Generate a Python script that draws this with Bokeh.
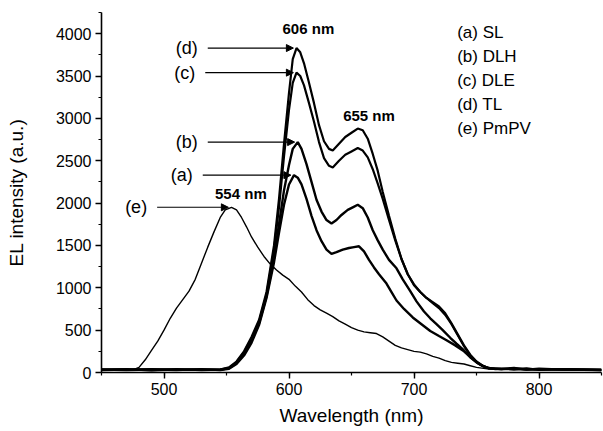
from bokeh.plotting import figure
from bokeh.models import (Range1d, SingleIntervalTicker, Arrow, NormalHead)
from bokeh.core.properties import value
from bokeh.embed import file_html
from bokeh.resources import INLINE

FONT = "Liberation Sans"

# ---------------- data ----------------
wl_d = [450, 470, 490, 510, 530, 545, 552, 558, 564, 570, 576, 582, 588, 592, 596, 600, 603, 606, 609, 612, 616,
        620, 624, 628, 632, 635, 640, 645, 650, 655, 659, 663, 667, 671, 675, 680, 685, 690, 695, 700, 705,
        710, 715, 720, 725, 730, 735, 740, 745, 750, 755, 760, 770, 780, 790, 800, 820, 850]
int_d = [30, 40, 25, 35, 30, 35, 60, 130, 250, 420, 620, 950, 1500, 2050, 2700, 3300, 3700, 3830, 3780, 3650, 3420,
         3180, 2920, 2730, 2640, 2620, 2700, 2780, 2830, 2880, 2860, 2760, 2580, 2380, 2130, 1850, 1580, 1340, 1160, 1030, 950,
         880, 830, 780, 700, 580, 450, 320, 210, 130, 80, 50, 40, 55, 35, 45, 35, 30]

wl_c = [450, 470, 490, 510, 530, 545, 552, 558, 564, 570, 576, 582, 588, 592, 596, 600, 603, 606, 609, 612, 616,
        620, 624, 628, 632, 635, 640, 645, 650, 655, 659, 663, 667, 671, 675, 680, 685, 690, 695, 700, 705,
        710, 715, 720, 725, 730, 735, 740, 745, 750, 755, 760, 770, 780, 790, 800, 820, 850]
int_c = [35, 30, 40, 30, 35, 30, 55, 120, 240, 400, 600, 920, 1450, 1950, 2550, 3100, 3420, 3540, 3500, 3390, 3180,
         2960, 2720, 2530, 2440, 2420, 2500, 2570, 2610, 2650, 2620, 2540, 2400, 2230, 2050, 1800, 1560, 1340, 1160, 1040, 950,
         880, 820, 760, 680, 570, 440, 310, 200, 120, 75, 50, 45, 35, 50, 30, 40, 30]

wl_b = [450, 470, 490, 510, 530, 545, 552, 558, 564, 570, 576, 582, 588, 592, 596, 600, 603, 607, 610, 614, 618,
        622, 626, 630, 634, 638, 642, 647, 651, 655, 659, 663, 667, 671, 675, 680, 686, 691, 697, 702, 708,
        713, 718, 723, 729, 734, 740, 745, 750, 755, 760, 770, 780, 790, 800, 820, 850]
int_b = [30, 35, 30, 40, 30, 35, 50, 110, 220, 380, 580, 900, 1350, 1750, 2150, 2450, 2640, 2720, 2640, 2460, 2250,
         2040, 1900, 1800, 1760, 1800, 1860, 1920, 1950, 1980, 1940, 1830, 1680, 1560, 1450, 1330, 1230, 1100, 960, 840, 720,
         640, 570, 500, 410, 340, 260, 180, 120, 75, 50, 40, 45, 35, 40, 35, 30]

wl_a = [450, 470, 490, 510, 530, 545, 552, 558, 564, 570, 576, 582, 588, 592, 596, 600, 604, 607, 610, 614, 618,
        622, 626, 630, 634, 638, 643, 648, 652, 656, 660, 664, 668, 672, 678, 682, 686, 692, 699, 706, 713,
        720, 726, 733, 740, 746, 752, 758, 765, 780, 800, 820, 850]
int_a = [35, 30, 35, 30, 40, 30, 45, 100, 200, 350, 560, 880, 1300, 1650, 1980, 2220, 2330, 2300, 2220, 2050, 1850,
         1680, 1550, 1450, 1400, 1420, 1450, 1470, 1480, 1490, 1430, 1330, 1240, 1160, 1050, 950, 850, 750, 650, 570, 490,
         430, 380, 320, 250, 170, 100, 60, 40, 45, 35, 40, 30]

wl_e = [450, 465, 475, 480, 485, 490, 495, 500, 505, 510, 515, 520, 525, 530, 535, 540, 545, 549, 554, 558, 562,
        566, 570, 575, 580, 585, 590, 595, 600, 605, 610, 615, 620, 625, 630, 635, 640, 645, 650, 655, 660,
        665, 670, 675, 680, 685, 690, 695, 700, 705, 710, 715, 720, 725, 730, 735, 740, 745, 750, 760, 780, 800, 850]
int_e = [30, 35, 30, 60, 150, 260, 370, 500, 640, 760, 860, 960, 1100, 1290, 1480, 1660, 1830, 1920, 1950, 1920, 1830,
         1720, 1600, 1480, 1370, 1280, 1210, 1150, 1100, 1020, 950, 860, 790, 740, 700, 660, 610, 570, 530, 500, 480,
         470, 460, 420, 370, 320, 290, 270, 250, 240, 220, 190, 170, 140, 120, 110, 100, 80, 60, 40, 40, 35, 30]

series_tags = ["(a)", "(b)", "(c)", "(d)", "(e)"]
legend_items = ["(a) SL", "(b) DLH", "(c) DLE", "(d) TL", "(e) PmPV"]
peak_labels = ["606 nm", "655 nm", "554 nm"]

x_ticks_interval = 100
y_ticks_interval = 500

# ---------------- figure ----------------
p = figure(width=603, height=431, output_backend="svg", toolbar_location=None,
           x_range=Range1d(450, 850), y_range=Range1d(0, 4250),
           min_border_left=101, min_border_right=2, min_border_top=12, min_border_bottom=59)
p.outline_line_color = None
p.grid.visible = False
p.background_fill_color = "white"
p.border_fill_color = "white"

p.xaxis.ticker = SingleIntervalTicker(interval=x_ticks_interval, num_minor_ticks=2)
p.yaxis.ticker = SingleIntervalTicker(interval=y_ticks_interval, num_minor_ticks=2)
for ax in (p.xaxis[0], p.yaxis[0]):
    ax.axis_line_color = "black"
    ax.axis_line_width = 1.6
    ax.major_tick_line_color = "black"
    ax.major_tick_line_width = 1.4
    ax.minor_tick_line_color = "black"
    ax.minor_tick_line_width = 1.2
    ax.major_tick_out = 6
    ax.major_tick_in = 0
    ax.minor_tick_out = 3
    ax.minor_tick_in = 0
    ax.major_label_text_font = FONT
    ax.major_label_text_font_size = "16px"
    ax.major_label_text_color = "black"
    ax.axis_label_text_font = FONT
    ax.axis_label_text_font_size = "19px"
    ax.axis_label_text_font_style = "normal"
    ax.axis_label_text_color = "black"
p.xaxis.axis_label = "Wavelength (nm)"
p.yaxis.axis_label = "EL intensity (a.u.)"
p.xaxis.major_label_standoff = 4
p.xaxis.axis_label_standoff = 7
p.yaxis.major_label_standoff = 4
p.yaxis.axis_label_standoff = 26

curves = [(wl_a, int_a, 2.4), (wl_b, int_b, 2.4), (wl_c, int_c, 2.2), (wl_d, int_d, 2.2), (wl_e, int_e, 1.4)]
for wl, it, lw in curves:
    p.line(wl, it, line_color="black", line_width=lw)

# arrows pointing at the main peaks
arrow_start = [531, 535, 533, 535, 494.5]
for (wl, it, lw), tag, xs in zip(curves, series_tags, arrow_start):
    k = it.index(max(it))
    px, py = wl[k], it[k]
    p.add_layout(Arrow(end=NormalHead(size=7, fill_color="black", line_color="black", line_width=1),
                       x_start=xs, y_start=py, x_end=px - 2.5, y_end=py,
                       line_color="black", line_width=1.1))
    p.text(x=[xs - 8], y=[py], text=[tag], text_font=value(FONT), text_font_size="18px",
           text_align="right", text_baseline="middle", text_color="black")

# peak wavelength labels
peak_x = [615.5, 664, 561.5]
peak_y = [4060, 3035, 2115]
p.text(x=peak_x, y=peak_y, text=peak_labels, text_font=value(FONT), text_font_size="15px",
       text_font_style="bold", text_align="center", text_baseline="middle", text_color="black")

# legend-like labels
leg_y = [4015, 3732, 3449, 3166, 2883]
p.text(x=[734.5] * 5, y=leg_y, text=legend_items, text_font=value(FONT), text_font_size="17px",
       text_align="left", text_baseline="middle", text_color="black")

open("out.html", "w").write(file_html(p, INLINE))
